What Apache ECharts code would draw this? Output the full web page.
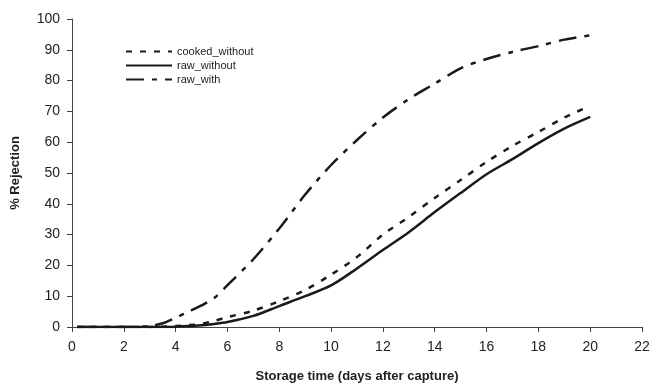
<!DOCTYPE html>
<html>
<head>
<meta charset="utf-8">
<script src="https://cdn.jsdelivr.net/npm/echarts@6/dist/echarts.min.js"></script>
<style>
  html, body { margin: 0; padding: 0; background: #fff; }
  #chart { width: 651px; height: 384px; }
</style>
</head>
<body>
<div id="chart"></div>
<script>
// storage day of each reading
const days = [0.2, 1, 2, 3, 3.5, 4, 4.5, 5, 5.5, 6, 7, 8, 9, 10, 11, 12, 13, 14, 15, 16, 17, 18, 19, 20]

// % rejection per series
const cookedWithout = [0, 0, 0, 0, 0.1, 0.3, 0.6, 1, 2, 3.2, 5.3, 8.4, 12, 17, 22.7, 30, 35.7, 41.9, 47.7, 53.6, 58.8, 63.3, 68, 71.8]
const rawWithout = [0, 0, 0, 0, 0, 0.1, 0.3, 0.6, 1, 1.6, 3.6, 6.8, 10, 13.5, 19, 25, 30.8, 37.3, 43.5, 49.6, 54.5, 59.7, 64.4, 68.2]
const rawWith = [0, 0, 0, 0.3, 1.2, 3, 5, 7, 9.5, 13.6, 22, 32, 43, 52.6, 60.7, 68, 74, 79, 84, 87, 89.3, 91.2, 93.3, 94.7]

const seriesNames = ['cooked_without', 'raw_without', 'raw_with']

const pairs = arr => days.map((d, i) => [d, arr[i]])
const font = 'Liberation Sans, Arial, sans-serif'
const ink = '#1a1a1a'

const chart = echarts.init(document.getElementById('chart'))
chart.setOption({
  animation: false,
  backgroundColor: '#fff',
  textStyle: {fontFamily: font},
  grid: {left: 72, right: 9, top: 19, bottom: 57, outerBoundsMode: 'none', containLabel: false},
  legend: {
    orient: 'vertical',
    left: 120,
    top: 41,
    itemWidth: 46,
    itemHeight: 10,
    itemGap: 3,
    itemStyle: {opacity: 0},
    textStyle: {fontSize: 11, color: '#222', fontFamily: font},
    data: seriesNames
  },
  xAxis: {
    type: 'value',
    min: 0,
    max: 22,
    interval: 2,
    name: 'Storage time (days after capture)',
    nameLocation: 'middle',
    nameGap: 43,
    nameTextStyle: {fontSize: 13, fontWeight: 'bold', color: '#222'},
    axisLine: {lineStyle: {color: '#444', width: 1}},
    axisTick: {show: true, length: 5, lineStyle: {color: '#444'}},
    axisLabel: {fontSize: 14, color: '#222', margin: 13},
    splitLine: {show: false}
  },
  yAxis: {
    type: 'value',
    min: 0,
    max: 100,
    interval: 10,
    name: '% Rejection',
    nameLocation: 'middle',
    nameGap: 50,
    nameTextStyle: {fontSize: 13, fontWeight: 'bold', color: '#222'},
    axisLine: {show: true, lineStyle: {color: '#444', width: 1}},
    axisTick: {show: true, length: 5, lineStyle: {color: '#444'}},
    axisLabel: {fontSize: 14, color: '#222', margin: 12},
    splitLine: {show: false}
  },
  series: [
    {
      name: seriesNames[0],
      type: 'line',
      data: pairs(cookedWithout),
      smooth: 0.3,
      symbol: 'none',
      lineStyle: {color: ink, width: 2.5, type: [6, 8]},
      itemStyle: {color: ink}
    },
    {
      name: seriesNames[1],
      type: 'line',
      data: pairs(rawWithout),
      smooth: 0.3,
      symbol: 'none',
      lineStyle: {color: ink, width: 2.5, type: 'solid'},
      itemStyle: {color: ink}
    },
    {
      name: seriesNames[2],
      type: 'line',
      data: pairs(rawWith),
      smooth: 0.3,
      symbol: 'none',
      lineStyle: {color: ink, width: 2.5, type: [18, 8, 5, 8]},
      itemStyle: {color: ink}
    }
  ]
})
</script>
</body>
</html>
